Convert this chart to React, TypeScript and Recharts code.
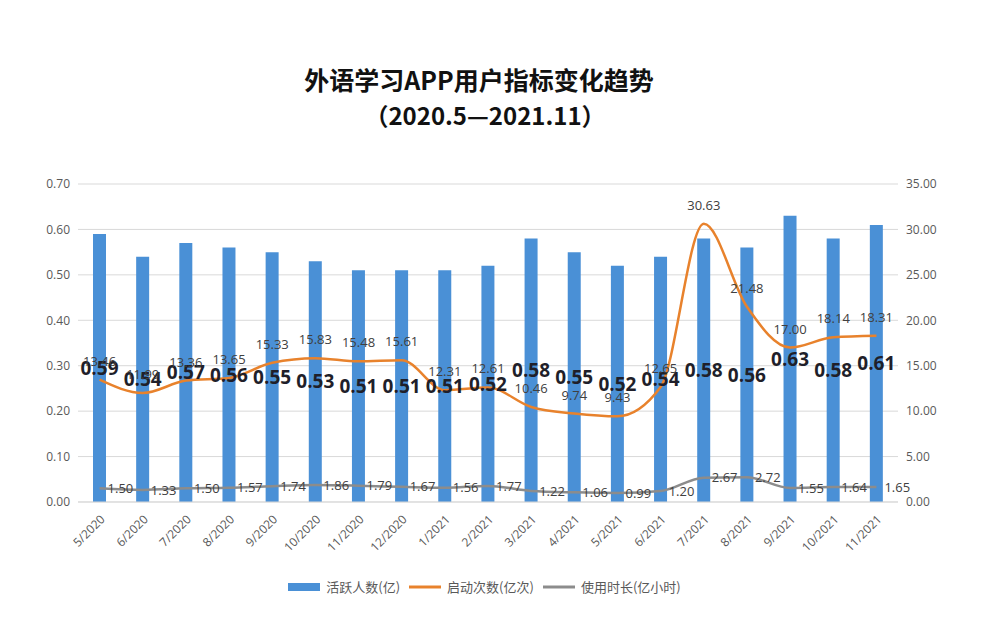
import React from 'react';
import { ComposedChart, Bar, Line, XAxis, YAxis, CartesianGrid, Legend, LabelList } from 'recharts';

const months = ['5/2020','6/2020','7/2020','8/2020','9/2020','10/2020','11/2020','12/2020','1/2021','2/2021','3/2021','4/2021','5/2021','6/2021','7/2021','8/2021','9/2021','10/2021','11/2021'];
const activeUsers = [0.59,0.54,0.57,0.56,0.55,0.53,0.51,0.51,0.51,0.52,0.58,0.55,0.52,0.54,0.58,0.56,0.63,0.58,0.61];
const launches = [13.46,11.99,13.36,13.65,15.33,15.83,15.48,15.61,12.31,12.61,10.46,9.74,9.43,12.65,30.63,21.48,17.00,18.14,18.31];
const usageHours = [1.50,1.33,1.50,1.57,1.74,1.86,1.79,1.67,1.56,1.77,1.22,1.06,0.99,1.20,2.67,2.72,1.55,1.64,1.65];
const leftTicks = [0,0.1,0.2,0.3,0.4,0.5,0.6,0.7];
const rightTicks = [0,5,10,15,20,25,30,35];

const data = months.map((m, i) => ({ month: m, active: activeUsers[i], launch: launches[i], usage: usageHours[i] }));

const FONT = '"Open Sans", "Noto Sans CJK SC", sans-serif';

const renderLegend = (props: any) => {
  const payload = props.payload || [];
  return (
    <div style={{ display: 'flex', justifyContent: 'center', alignItems: 'center', paddingLeft: 0, fontFamily: '"Noto Sans CJK SC", sans-serif', fontSize: 13, color: '#595959' }}>
      {payload.map((p: any, i: number) => (
        <div key={i} style={{ display: 'flex', alignItems: 'center', marginRight: 8 }}>
          <svg width={34} height={12} style={{ marginRight: 5 }}>
            {p.type === 'rect'
              ? <rect x={1} y={2} width={32} height={8} fill={p.color} />
              : <line x1={1} y1={6} x2={33} y2={6} stroke={p.color} strokeWidth={3} />}
          </svg>
          <span>{p.value}</span>
        </div>
      ))}
    </div>
  );
};

export default function App() {
  return (
    <div style={{ position: 'absolute', left: 0, top: 0, width: 1000, height: 617, background: '#fff', fontFamily: FONT }}>
      <div style={{ position: 'absolute', left: 0, width: 958, top: 61, textAlign: 'center', fontSize: 25, fontWeight: 700, color: '#111', fontFamily: '"Noto Sans CJK SC", sans-serif', lineHeight: '36px' }}>
        外语学习APP用户指标变化趋势
      </div>
      <div style={{ position: 'absolute', left: 0, width: 970, top: 97, textAlign: 'center', fontSize: 24, fontWeight: 700, color: '#111', fontFamily: '"Noto Sans CJK SC", sans-serif', lineHeight: '36px' }}>
        （2020.5—2021.11）
      </div>
      <ComposedChart width={1000} height={617} data={data} margin={{ top: 184, right: 0, left: 0, bottom: 0 }} style={{ position: 'absolute', left: 0, top: 0 }}>
        <CartesianGrid vertical={false} stroke="#d9d9d9" yAxisId="left" />
        <XAxis dataKey="month" interval={0} height={75} tickLine={false} axisLine={{ stroke: '#d9d9d9' }}
          tick={{ fontSize: 12, fill: '#595959', fontFamily: FONT }} angle={-45} textAnchor="end" dy={4} />
        <YAxis yAxisId="left" width={78} domain={[0, 0.7]} ticks={leftTicks} tickFormatter={(v: number) => v.toFixed(2)}
          tickLine={false} axisLine={false} tick={{ fontSize: 12, fill: '#595959', fontFamily: FONT }} />
        <YAxis yAxisId="right" orientation="right" width={102} domain={[0, 35]} ticks={rightTicks} tickFormatter={(v: number) => v.toFixed(2)}
          tickLine={false} axisLine={false} tick={{ fontSize: 12, fill: '#595959', fontFamily: FONT }} />
        <Legend verticalAlign="bottom" height={40} itemSorter={null as any} content={renderLegend}
          wrapperStyle={{ left: -12, width: 1000 }} />
        <Bar yAxisId="left" dataKey="active" name="活跃人数(亿)" fill="#4a90d6" barSize={13} legendType="rect" isAnimationActive={false}>
          <LabelList dataKey="active" position="center" formatter={(v: number) => v.toFixed(2)}
            style={{ fontSize: 19, fontWeight: 700, fill: '#1f1f2a', fontFamily: FONT }} />
        </Bar>
        <Line yAxisId="right" type="monotone" dataKey="launch" name="启动次数(亿次)" stroke="#e8822c" strokeWidth={2.5} dot={false} legendType="plainline" isAnimationActive={false}>
          <LabelList dataKey="launch" position="top" offset={14} formatter={(v: number) => v.toFixed(2)}
            style={{ fontSize: 13, fill: '#404040', fontFamily: FONT }} />
        </Line>
        <Line yAxisId="right" type="monotone" dataKey="usage" name="使用时长(亿小时)" stroke="#8c8c8c" strokeWidth={2.5} dot={false} legendType="plainline" isAnimationActive={false}>
          <LabelList dataKey="usage" position="right" offset={8} formatter={(v: number) => v.toFixed(2)}
            style={{ fontSize: 13, fill: '#404040', fontFamily: FONT }} />
        </Line>
      </ComposedChart>
    </div>
  );
}
